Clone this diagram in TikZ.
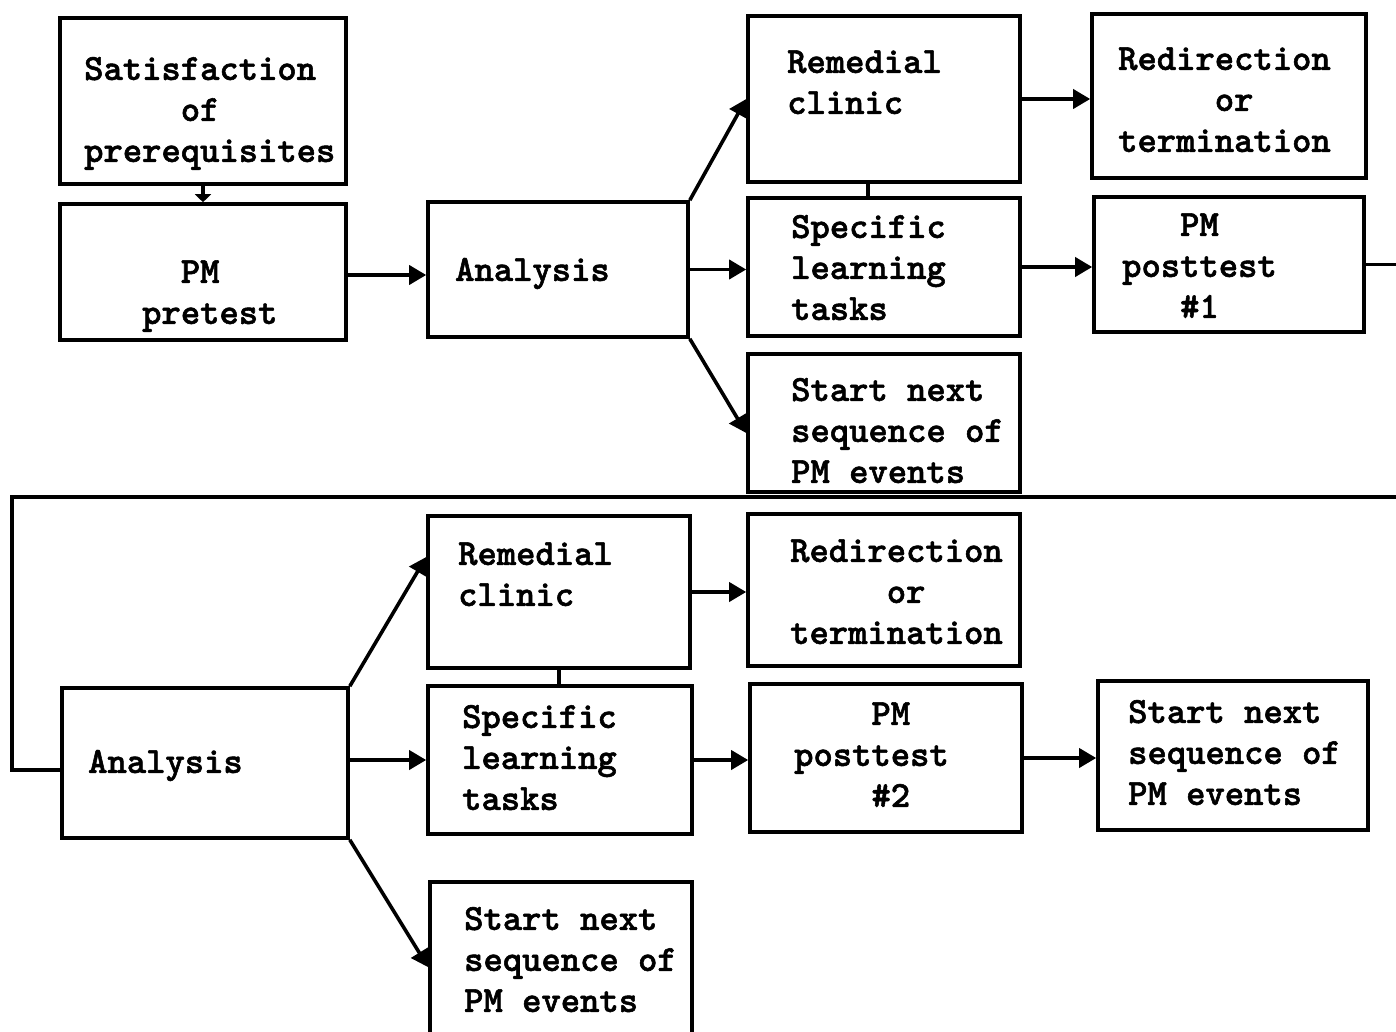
\documentclass[tikz,border=0pt]{standalone}
\usepackage{fontspec}
\usetikzlibrary{arrows.meta,fit}
% heavy typewriter face for all box texts
\newfontfamily\typew{lmmonolt10-bold.otf}[FakeBold=1.5]
% fixed-width blank of as many characters as the argument has
\newcommand\sk[1]{\phantom{#1}}
\begin{document}
\begin{tikzpicture}[x=1pt,y=-1pt,
  box/.style={draw,line width=3.6pt,inner sep=0pt},
  txt/.style={inner sep=0pt,anchor=north west,align=left,
    font=\typew\fontsize{36.8}{41}\selectfont},
  link/.style={line width=3.6pt},
  arr/.style={link,-{Triangle[length=17pt,width=19pt]}},
  smallarr/.style={link,-{Triangle[length=8pt,width=16pt]}},
]
\useasboundingbox (0,0) rectangle (1396,1032);
\clip (0,0) rectangle (1396,1032);

% ---------- first sequence ----------
\node[box,fit={(60,18)(346,184)}] (sat) {};
\node[box,fit={(60,204)(346,340)}] (pre) {};
\node[box,fit={(428,202)(688,337)}] (an1) {};
\node[box,fit={(748,16)(1020,182)}] (rem1) {};
\node[box,fit={(748,198)(1020,336)}] (slt1) {};
\node[box,fit={(748,354)(1020,492)}] (nxt1) {};
\node[box,fit={(1092,14)(1366,178)}] (red1) {};
\node[box,fit={(1094,197)(1364,332)}] (post1) {};

\node[txt] (sat-t) at (84,51) {\strut Satisfaction\\\sk{00000}of\\prerequisites};
\node[txt] (pre-t) at (142,254) {\strut\sk{00}PM\\pretest};
\node[txt] (an1-t) at (455,252) {\strut Analysis};
\node[txt] (rem1-t) at (787,44) {\strut Remedial\\clinic};
\node[txt] (slt1-t) at (791,209) {\strut Specific\\learning\\tasks};
\node[txt] (nxt1-t) at (791,372) {\strut Start next\\sequence of\\PM events};
\node[txt] (red1-t) at (1118,41) {\strut Redirection\\\sk{00000}or\\termination};
\node[txt] (post1-t) at (1122,207) {\strut\sk{000}PM\\posttest\\\sk{000}\#1};

\draw[smallarr] (sat.south) -- (pre.north);
\draw[arr] ([yshift=-3pt]pre.east) -- ([yshift=-3pt]pre.east -| an1.west);
\draw[arr] (an1.north east) -- (rem1.west);
\draw[arr] (an1.east) -- (an1.east -| slt1.west);
\draw[arr] (an1.south east) -- ([yshift=-10pt]nxt1.west);
\draw[link] ([xshift=-16pt]rem1.south) -- ([xshift=-16pt]slt1.north);
\draw[arr] (rem1.east) -- (rem1.east -| red1.west);
\draw[arr] (slt1.east) -- (slt1.east -| post1.west);

% ---------- second sequence ----------
\node[box,fit={(62,688)(348,838)}] (an2) {};
\node[box,fit={(428,516)(690,668)}] (rem2) {};
\node[box,fit={(428,686)(692,834)}] (slt2) {};
\node[box,fit={(430,882)(692,1050)}] (nxt2) {};
\node[box,fit={(748,514)(1020,666)}] (red2) {};
\node[box,fit={(750,684)(1022,832)}] (post2) {};
\node[box,fit={(1098,681)(1368,830)}] (nxt3) {};

\node[txt] (an2-t) at (88,744) {\strut Analysis};
\node[txt] (rem2-t) at (458,536) {\strut Remedial\\clinic};
\node[txt] (slt2-t) at (462,699) {\strut Specific\\learning\\tasks};
\node[txt] (nxt2-t) at (464,901) {\strut Start next\\sequence of\\PM events};
\node[txt] (red2-t) at (790,533) {\strut Redirection\\\sk{00000}or\\termination};
\node[txt] (post2-t) at (794,696) {\strut\sk{0000}PM\\posttest\\\sk{0000}\#2};
\node[txt] (nxt3-t) at (1128,694) {\strut Start next\\sequence of\\PM events};

% posttest #1 leads back round into the second analysis
\draw[link] (post1.east) -| (1410,497) -- (12,497) |- ([yshift=-7pt]an2.west);

\draw[arr] (an2.north east) -- ([yshift=35pt]rem2.west);
\draw[arr] ([yshift=3pt]an2.east) -- ([yshift=3pt]an2.east -| slt2.west);
\draw[arr] (an2.south east) -- ([yshift=-87pt]nxt2.north west);
\draw[link] (rem2.south) -- (rem2.south |- slt2.north);
\draw[arr] (rem2.east) -- (rem2.east -| red2.west);
\draw[arr] (slt2.east) -- (slt2.east -| post2.west);
\draw[arr] (post2.east) -- (post2.east -| nxt3.west);
\end{tikzpicture}
\end{document}
